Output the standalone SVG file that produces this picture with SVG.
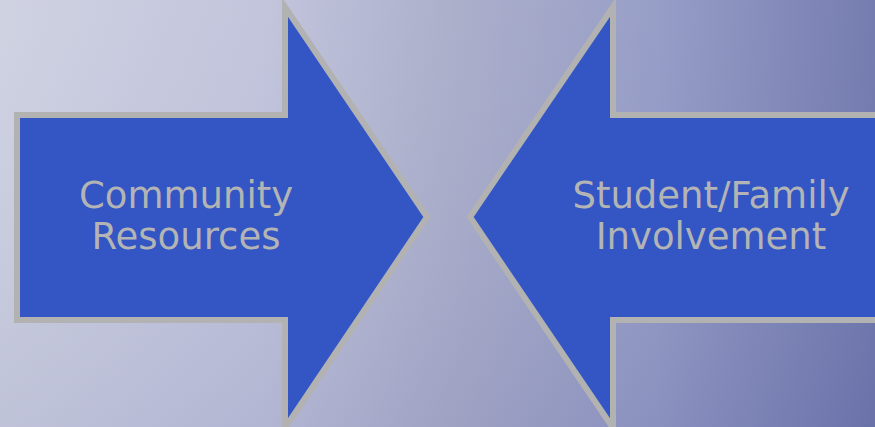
<svg xmlns="http://www.w3.org/2000/svg" width="875" height="427" viewBox="0 0 875 427">
<defs>
<linearGradient id="bg" x1="0" y1="0" x2="1" y2="0">
<stop offset="0" stop-color="#cdd0e0"/>
<stop offset="0.3" stop-color="#bfc2da"/>
<stop offset="0.52" stop-color="#a8abc8"/>
<stop offset="0.75" stop-color="#9299c4"/>
<stop offset="1" stop-color="#6e76ac"/>
</linearGradient>
<linearGradient id="shade" x1="0" y1="0" x2="0" y2="1">
<stop offset="0" stop-color="#ffffff" stop-opacity="0.05"/>
<stop offset="1" stop-color="#404890" stop-opacity="0.1"/>
</linearGradient>
<style>
.arrow{fill:#3356c4;stroke:#b2b2b2;stroke-width:6;stroke-linejoin:miter}
.lbl{font-family:"DejaVu Sans",Verdana,sans-serif;font-size:37px;fill:#b4b4b4;text-anchor:middle}
</style>
</defs>
<rect width="875" height="427" fill="url(#bg)"/>
<rect width="875" height="427" fill="url(#shade)"/>
<g id="connectors"/>
<g id="community">
<polygon class="arrow" points="17,115 285,115 285,7 427,217 285,428 285,320 17,320"/>
<text class="lbl" x="186" y="208">Community</text>
<text class="lbl" x="186" y="249">Resources</text>
</g>
<g id="student">
<polygon class="arrow" points="880,115 613,115 613,7 470,217 613,428 613,320 880,320"/>
<text class="lbl" x="711" y="208">Student/Family</text>
<text class="lbl" x="711" y="249">Involvement</text>
</g>
</svg>
